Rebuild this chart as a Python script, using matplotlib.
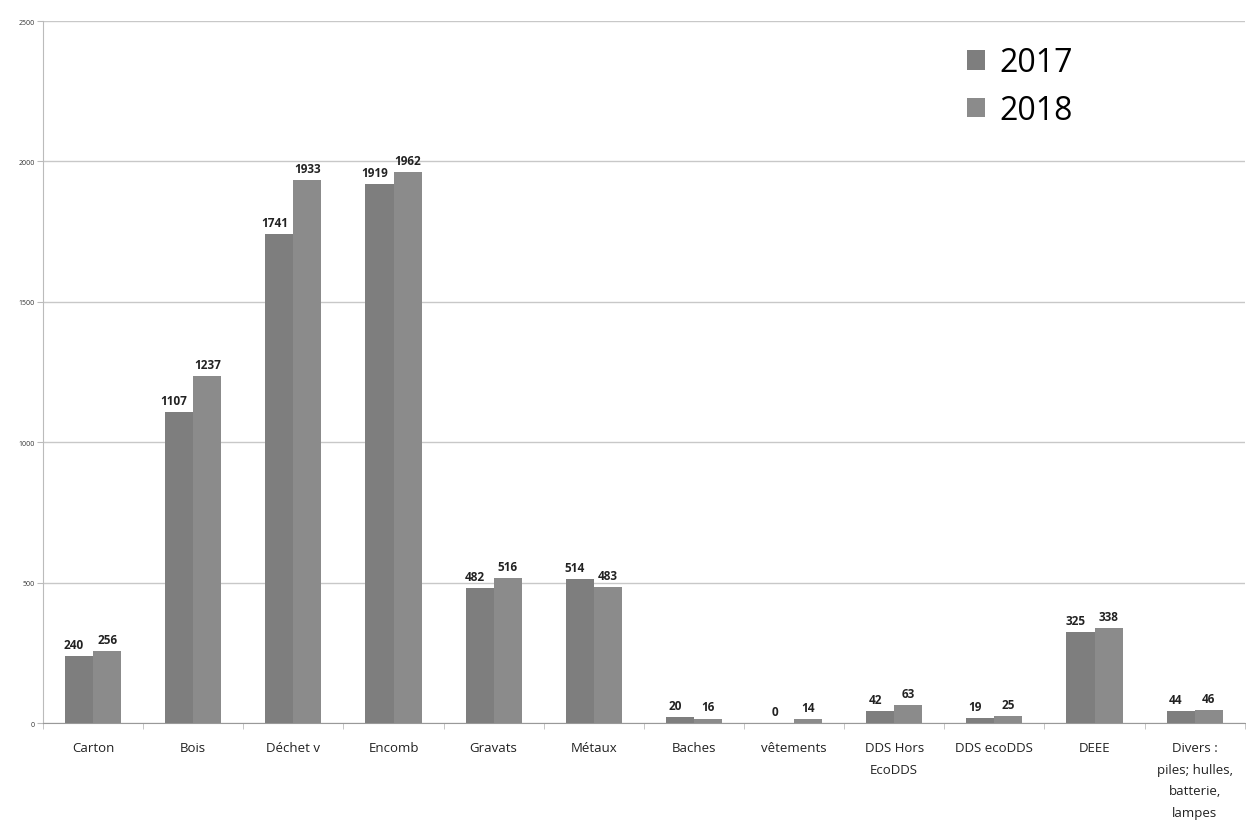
import matplotlib
matplotlib.use("Agg")
import matplotlib.pyplot as plt
import numpy as np

categories = ["Carton", "Bois", "Déchet v", "Encomb", "Gravats", "Métaux", "Baches",
              "vêtements", "DDS Hors\nEcoDDS", "DDS ecoDDS", "DEEE",
              "Divers :\npiles; hulles,\nbatterie,\nlampes"]
values_2017 = [240, 1107, 1741, 1919, 482, 514, 20, 0, 42, 19, 325, 44]
values_2018 = [256, 1237, 1933, 1962, 516, 483, 16, 14, 63, 25, 338, 46]
series_names = ["2017", "2018"]
yticks = [0, 500, 1000, 1500, 2000, 2500]

plt.rcParams['font.family'] = ['Open Sans', 'DejaVu Sans']

fig = plt.figure(figsize=(12.46, 8.28), dpi=100)
ax = fig.add_axes([0.0345, 0.1256, 0.9645, 0.8478])

x = np.arange(len(categories))
w = 0.28
c17 = "#7e7e7e"
c18 = "#8b8b8b"
ax.bar(x - w/2, values_2017, w, color=c17, label=series_names[0], zorder=3)
ax.bar(x + w/2, values_2018, w, color=c18, label=series_names[1], zorder=3)

for xi, v in zip(x - w/2, values_2017):
    ax.text(xi - 0.05, v + 18, str(v), ha="center", va="bottom", fontsize=8.5,
            fontweight="bold", color="#222222")
for xi, v in zip(x + w/2, values_2018):
    ax.text(xi, v + 18, str(v), ha="center", va="bottom", fontsize=8.5,
            fontweight="bold", color="#222222")

ax.set_xlim(-0.5, len(categories) - 0.5)
ax.set_ylim(0, 2500)
ax.set_yticks(yticks)
ax.set_yticklabels([str(t) for t in yticks], fontsize=5, color="#333333")
ax.yaxis.grid(True, color="#c8c8c8", linewidth=1, zorder=0)
ax.set_axisbelow(True)

ax.set_xticks(x)
ax.set_xticklabels(categories, fontsize=9.5, color="#222222", linespacing=1.85)
ax.set_xticks(np.arange(len(categories) + 1) - 0.5, minor=True)
ax.tick_params(axis="x", which="major", length=0, pad=13)
ax.tick_params(axis="x", which="minor", length=4, color="#bbbbbb")
ax.tick_params(axis="y", length=4, color="#bbbbbb", pad=2)

for s in ["top", "right"]:
    ax.spines[s].set_visible(False)
ax.spines["left"].set_color("#bbbbbb")
ax.spines["bottom"].set_color("#999999")

ax.legend(loc="upper left", bbox_to_anchor=(0.745, 1.005), frameon=False,
          fontsize=23, handlelength=0.55, handleheight=0.55, handletextpad=0.45,
          labelspacing=0.45)

fig.savefig("out.png", dpi=100)
